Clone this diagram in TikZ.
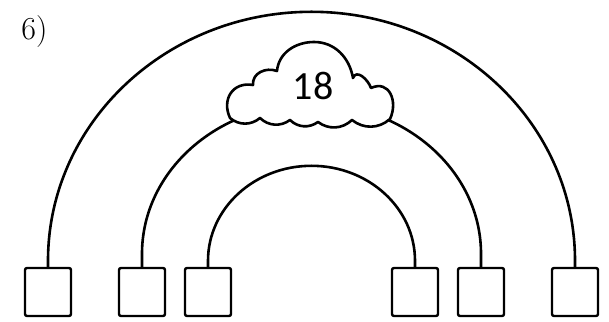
\documentclass[tikz,border=0pt]{standalone}
\usepackage{fontspec}
\setsansfont{Carlito}
\usetikzlibrary{positioning}
\tikzset{
  slot/.style={rectangle, rounded corners=1pt, draw=black, line width=1.2pt,
               minimum width=23pt, minimum height=24pt, inner sep=0pt},
  bow/.style={draw=black, line width=1.3pt},
  puff/.style={draw=black, line width=1.3pt, fill=white, line join=round},
  sumtxt/.style={font=\sffamily\fontsize{20}{20}\selectfont, inner sep=0pt},
  tag/.style={font=\fontsize{16}{16}\selectfont, inner sep=0pt},
}

\begin{document}
\begin{tikzpicture}[x=0.5pt,y=0.5pt]
\useasboundingbox (0,0) rectangle (609,321);

% ===================== LABEL =====================
\node[tag, anchor=base west] (num) at (21,281) {6)};

% ===================== BOXES =====================
\node[slot] (b1) at (48,29) {};
\node[slot] (b2) at (142,29) {};
\node[slot] (b3) at (208,29) {};
\node[slot] (b4) at (415,29) {};
\node[slot] (b5) at (481,29) {};
\node[slot] (b6) at (575,29) {};

% ===================== ARCS =====================
\draw[bow] (b1.north) -- ++(0,6)
  arc[start angle=180, end angle=0, x radius=263.5, y radius=249] -- (b6.north);
\draw[bow] (b2.north) -- ++(0,13)
  arc[start angle=180, end angle=0, x radius=169.5, y radius=150] -- (b5.north);
\draw[bow] (b3.north) -- ++(0,6)
  arc[start angle=180, end angle=0, x radius=103.5, y radius=95] -- (b4.north);

% ===================== CLOUD =====================
\draw[puff] (230,203)
  to[out=115, in=170, looseness=1.3] (253,236)
  to[out=95, in=160, looseness=1.1] (277,250)
  to[out=85, in=180] (314,279)
  to[out=0, in=100] (353,243)
  to[out=70, in=110, looseness=1.2] (371,233)
  to[out=25, in=65, looseness=1.4] (390,202)
  to[bend left=40] (352,201)
  to[bend left=40] (318,199)
  to[bend left=40] (290,201)
  to[bend left=40] (260,203)
  to[bend left=40] cycle;
\node[sumtxt] (sum) at (313,235) {18};

\end{tikzpicture}
\end{document}
